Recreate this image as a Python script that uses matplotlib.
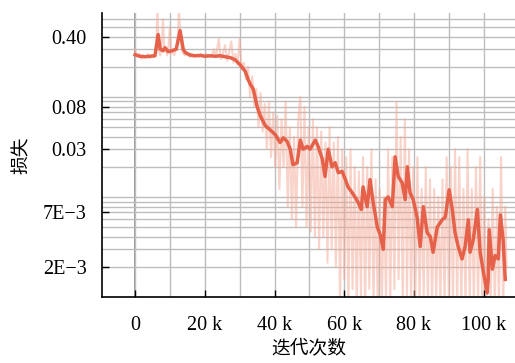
import matplotlib
matplotlib.use("Agg")
import matplotlib.pyplot as plt
from matplotlib.ticker import FixedLocator, NullFormatter, LogLocator, MultipleLocator

# ---- data (iterations in thousands, loss values) ----
smooth_k = [0, 1.4, 2.9, 4.3, 5.7, 6.6, 7.2, 8.0, 8.6, 9.5, 10.6, 11.8, 12.9, 13.8, 14.4,
            15.8, 17.2, 18.7, 20.1, 21.5, 23.0, 24.4, 25.8, 27.3, 28.7, 30.1, 31.6, 32.4,
            33.0, 33.9, 34.4, 35.0, 35.9, 37.3, 38.7, 40.2, 41.6, 42.5, 43.6, 44.5, 45.3,
            46.5, 47.4, 48.2, 49.4, 50.2, 51.7, 52.5, 53.7, 54.5, 55.4, 56.5, 57.4, 58.3,
            59.4, 60.3, 61.1, 62.3, 63.1, 64.0, 64.9, 65.4, 66.6, 67.4, 68.3, 69.5, 70.3,
            71.2, 71.8, 72.6, 73.8, 74.6, 75.5, 76.6, 77.5, 78.1, 78.9, 79.8, 80.9, 81.8,
            82.7, 83.8, 84.7, 85.5, 86.7, 88.1, 89.0, 90.1, 91.0, 91.8, 92.7, 93.8, 94.7,
            95.6, 96.1, 97.0, 98.2, 99.0, 99.9, 101.0, 101.3, 101.6, 102.5, 103.3, 104.2,
            104.8, 105.6, 106.2]
smooth_loss = [0.264, 0.255, 0.252, 0.255, 0.258, 0.42, 0.30, 0.29, 0.31, 0.283, 0.29, 0.30,
               0.46, 0.30, 0.277, 0.262, 0.258, 0.26, 0.255, 0.258, 0.255, 0.258, 0.252,
               0.247, 0.235, 0.21, 0.18, 0.15, 0.135, 0.12, 0.10, 0.08, 0.065, 0.052, 0.047,
               0.042, 0.035, 0.039, 0.036, 0.030, 0.021, 0.022, 0.037, 0.030, 0.032, 0.030,
               0.037, 0.032, 0.024, 0.016, 0.030, 0.020, 0.022, 0.0175, 0.018, 0.015, 0.0126,
               0.011, 0.010, 0.0088, 0.0075, 0.0126, 0.008, 0.0149, 0.0088, 0.005, 0.0042,
               0.003, 0.0094, 0.0100, 0.0080, 0.0252, 0.016, 0.0139, 0.0094, 0.020, 0.011,
               0.0094, 0.0063, 0.0032, 0.0080, 0.0044, 0.0040, 0.0028, 0.0050, 0.0059,
               0.0063, 0.0118, 0.0075, 0.0044, 0.0032, 0.0024, 0.0032, 0.0059, 0.0028,
               0.0037, 0.0075, 0.0028, 0.0018, 0.0011, 0.0015, 0.0047, 0.0019, 0.0026,
               0.0024, 0.0066, 0.0037, 0.0015]

raw_k = [0, 0.6, 1.2, 1.8, 2.4, 3.0, 3.6, 4.2, 4.8, 5.4, 6.0, 6.4, 6.8, 7.2, 7.6, 8.0, 8.4,
         8.8, 9.2, 9.6, 10.0, 10.4, 10.8, 11.2, 11.6, 12.2, 12.6, 13.0, 13.4, 13.8, 14.4,
         15.0, 15.6, 16.2, 17.0, 17.6, 18.4, 19.0, 19.8, 20.5, 21.2, 22.0, 22.6, 23.2, 24.0,
         24.6, 25.2, 25.8, 26.4, 27.0, 27.6, 28.2, 28.8, 29.4, 30.0, 30.6, 31.2, 31.8, 32.4,
         33.0, 33.6, 34.2, 34.8, 35.4, 36.0, 36.6, 37.2, 37.8, 38.4, 39.0, 39.6, 40.2, 40.8,
         41.4, 42.0, 42.6, 43.2, 43.8, 44.4, 45.0, 45.6, 46.2, 46.8, 47.4, 48.0, 48.6, 49.2,
         49.8, 50.4, 51.0, 51.6, 52.2, 52.8, 53.4, 54.0, 54.6, 55.2, 55.8, 56.4, 57.0, 57.6,
         58.2, 58.8, 59.4, 60.0, 60.6, 61.2, 61.8, 62.4, 63.0, 63.6, 64.2, 64.8, 65.4, 66.0,
         66.6, 67.2, 67.8, 68.4, 69.0, 69.6, 70.2, 70.8, 71.4, 72.0, 72.6, 73.2, 73.8, 74.4,
         75.0, 75.6, 76.2, 76.8, 77.4, 78.0, 78.6, 79.2, 79.8, 80.4, 81.0, 81.6, 82.2, 82.8,
         83.4, 84.0, 84.6, 85.2, 85.8, 86.4, 87.0, 87.6, 88.2, 88.8, 89.4, 90.0, 90.6, 91.2,
         91.8, 92.4, 93.0, 93.6, 94.2, 94.8, 95.4, 96.0, 96.6, 97.2, 97.8, 98.4, 99.0, 99.6,
         100.2, 100.8, 101.4, 102.0, 102.6, 103.2, 103.8, 104.4, 105.0, 105.6, 106.2, 106.6]
raw_loss = [0.30, 0.25, 0.27, 0.24, 0.26, 0.25, 0.27, 0.245, 0.26, 0.25, 0.27, 0.75, 0.30,
            0.26, 0.32, 0.60, 0.28, 0.31, 0.26, 0.33, 0.50, 0.27, 0.29, 0.26, 0.30, 0.36,
            0.80, 0.40, 0.30, 0.27, 0.26, 0.28, 0.25, 0.27, 0.25, 0.265, 0.25, 0.27, 0.25,
            0.27, 0.25, 0.26, 0.30, 0.25, 0.38, 0.24, 0.27, 0.33, 0.23, 0.28, 0.36, 0.22,
            0.27, 0.21, 0.38, 0.19, 0.22, 0.15, 0.20, 0.10, 0.16, 0.08, 0.12, 0.05, 0.11,
            0.045, 0.085, 0.03, 0.09, 0.025, 0.07, 0.02, 0.065, 0.012, 0.06, 0.02, 0.09,
            0.008, 0.05, 0.006, 0.04, 0.005, 0.06, 0.10, 0.008, 0.08, 0.005, 0.05, 0.0045,
            0.06, 0.004, 0.05, 0.003, 0.045, 0.004, 0.035, 0.0022, 0.05, 0.003, 0.035, 0.002,
            0.04, 0.0008, 0.03, 0.0015, 0.025, 0.0008, 0.03, 0.0012, 0.02, 0.0008, 0.018,
            0.001, 0.025, 0.0008, 0.02, 0.0012, 0.03, 0.0008, 0.015, 0.0008, 0.012, 0.0008,
            0.01, 0.0009, 0.03, 0.0008, 0.025, 0.0012, 0.09, 0.0015, 0.04, 0.0008, 0.06,
            0.001, 0.03, 0.0008, 0.02, 0.0008, 0.025, 0.0008, 0.012, 0.001, 0.02, 0.0008,
            0.015, 0.0008, 0.012, 0.0009, 0.01, 0.0008, 0.015, 0.0008, 0.025, 0.001, 0.02,
            0.0008, 0.03, 0.0008, 0.025, 0.0008, 0.012, 0.0008, 0.03, 0.0008, 0.012, 0.0008,
            0.02, 0.0008, 0.025, 0.0008, 0.01, 0.0008, 0.006, 0.0008, 0.012, 0.0008, 0.008,
            0.0008, 0.025, 0.0008, 0.008, 0.002]

x_ticks = [0, 20, 40, 60, 80, 100]
x_tick_labels = ["0", "20 k", "40 k", "60 k", "80 k", "100 k"]
y_ticks = [0.40, 0.08, 0.03, 7e-3, 2e-3]
y_tick_labels = ["0.40", "0.08", "0.03", "7E\u22123", "2E\u22123"]

plt.rcParams["font.family"] = ["Liberation Serif", "Noto Sans CJK SC"]

fig = plt.figure(figsize=(5.15, 3.63), dpi=100)
ax = fig.add_axes([102 / 515, 1 - 297 / 363, 1 - 102 / 515, (297 - 13) / 363])

ax.set_yscale("log")
ax.set_xlim(-9.5, 109)
ax.set_ylim(1.0e-3, 0.69)

ax.plot(raw_k, raw_loss, color="#f4a994", alpha=0.5, lw=1.5, zorder=2)
ax.plot(smooth_k, smooth_loss, color="#e5614a", lw=2.5, zorder=3)

# grids
ax.yaxis.set_minor_locator(LogLocator(base=10, subs=[1, 2, 3, 4, 5, 6, 7, 8, 9]))
ax.yaxis.set_minor_formatter(NullFormatter())
ax.xaxis.set_minor_locator(MultipleLocator(10))
ax.grid(True, which="both", axis="both", color="#bdbdbd", lw=1.0, zorder=0)
ax.axvline(0, color="#959595", lw=1.4, zorder=1)

ax.set_xticks(x_ticks)
ax.set_xticklabels(x_tick_labels, fontsize=14.5)
ax.yaxis.set_major_locator(FixedLocator(y_ticks))
ax.set_yticklabels(y_tick_labels, fontsize=14.5)
ax.tick_params(which="major", direction="in", length=5, width=1.0, color="black")
ax.tick_params(axis="y", pad=11)
ax.tick_params(axis="x", pad=14)
ax.tick_params(which="minor", length=0)

for s in ["top", "right"]:
    ax.spines[s].set_visible(False)
for s in ["left", "bottom"]:
    ax.spines[s].set_color("black")
    ax.spines[s].set_linewidth(1.2)

ax.set_xlabel("迭代次数", fontsize=13.5, family=["Noto Sans CJK SC"], labelpad=2)
ax.set_ylabel("损失", fontsize=13.5, family=["Noto Sans CJK SC"], labelpad=8)

fig.savefig("out.png", dpi=100)
